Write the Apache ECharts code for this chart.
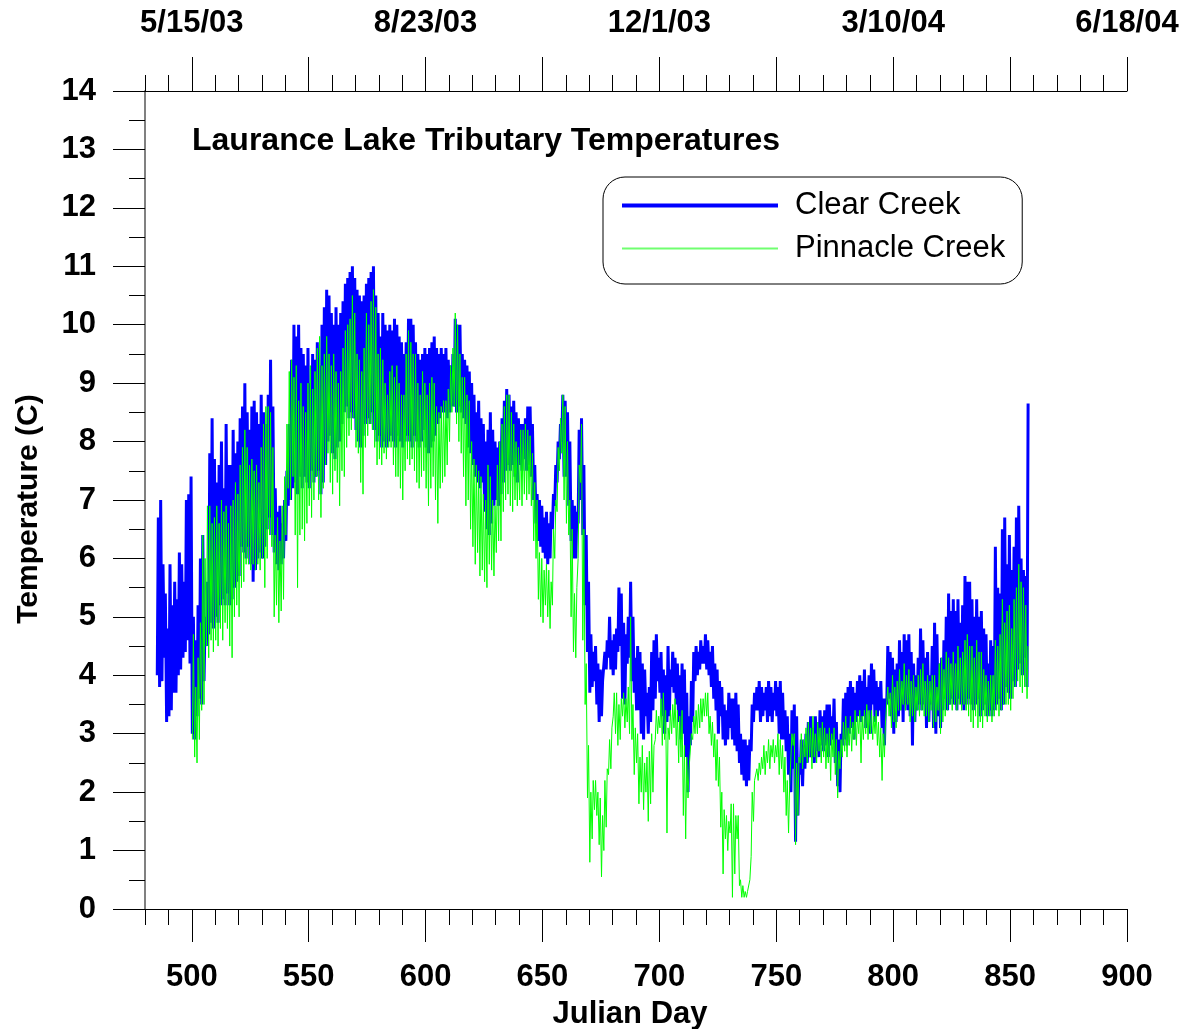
<!DOCTYPE html>
<html><head><meta charset="utf-8">
<script src="https://cdn.jsdelivr.net/npm/echarts@6/dist/echarts.min.js"></script>
<style>html,body{margin:0;padding:0;background:#fff}#chart{width:1183px;height:1029px}</style>
</head><body><div id="chart"></div>
<script>
// ---- tick labels ----
const dayLabelValues = [500, 550, 600, 650, 700, 750, 800, 850, 900];
const dayMajorTicks = [500, 550, 600, 650, 700, 750, 800, 850, 900];
const dateTickDays = [500, 600, 700, 800, 900];
const dateLabels = ['5/15/03', '8/23/03', '12/1/03', '3/10/04', '6/18/04'];

// ---- Clear Creek: daily low / high, starting Julian day 485 ----
const clearStartDay = 485;
const clearLow = [
4.0,3.8,3.9,4.3,3.2,3.3,3.4,3.7,3.7,4.0,
4.1,4.3,4.4,4.6,4.2,3.0,2.9,3.3,3.6,3.5,
3.9,4.5,4.7,4.9,4.8,5.0,4.9,5.2,5.3,5.2,
5.4,5.2,5.3,5.5,5.6,5.7,6.2,6.1,6.0,6.2,
5.9,5.6,5.8,6.0,6.1,6.0,6.2,6.5,6.7,6.4,
6.1,5.9,5.8,5.9,6.0,6.3,6.9,7.0,7.2,7.3,
7.1,7.4,7.2,7.4,7.3,7.2,7.5,7.3,7.4,7.5,
7.1,7.3,7.6,8.0,8.1,7.8,7.7,7.9,8.0,8.3,
8.5,8.6,8.4,8.5,8.4,8.2,8.0,7.9,8.1,8.3,
8.4,8.3,8.5,8.2,8.0,8.1,7.9,8.0,7.9,8.0,
8.1,8.0,7.9,8.1,8.0,7.9,8.0,8.1,8.0,7.9,
8.1,8.0,7.9,8.0,8.2,7.9,7.8,7.9,8.0,8.1,
8.3,8.4,8.5,8.5,8.4,8.5,8.6,8.6,8.5,8.6,
8.5,8.4,8.3,7.9,7.8,7.6,7.4,7.3,7.2,7.3,
6.8,6.5,6.4,6.6,6.9,7.0,6.9,7.1,7.3,7.5,
7.6,7.5,7.6,7.4,7.3,7.6,7.5,7.7,7.5,7.6,
7.4,7.0,6.6,6.3,6.2,6.1,6.0,5.9,6.0,6.5,
6.9,7.3,7.7,8.0,7.4,7.4,6.9,6.3,6.0,6.0,
6.6,7.0,6.4,5.2,4.4,3.7,3.8,3.9,3.5,3.2,
3.3,3.9,4.1,4.3,4.1,4.0,4.1,4.4,4.5,3.6,
3.5,4.2,4.3,3.9,3.7,3.4,3.4,3.0,2.9,3.3,
3.0,3.2,3.4,3.6,3.9,3.7,3.3,3.0,3.2,3.3,
3.8,3.7,3.5,3.2,2.9,3.0,2.6,2.0,2.8,3.2,
3.9,4.0,4.1,4.2,4.2,4.1,4.0,3.8,3.6,3.4,
3.0,3.3,2.9,2.8,2.9,3.1,2.9,2.8,2.7,2.5,
2.3,2.2,2.1,2.2,2.7,3.2,3.4,3.4,3.2,3.3,
3.4,3.2,3.3,3.2,3.4,3.3,3.0,2.9,2.9,2.7,
2.3,2.0,2.4,1.15,1.6,2.3,2.1,2.4,2.5,2.6,
2.6,2.5,2.7,2.6,2.8,2.7,2.8,2.6,2.8,2.9,
2.5,2.1,2.0,2.8,2.9,2.8,3.0,3.1,2.9,3.2,
3.3,3.2,3.3,3.1,3.4,3.0,3.5,3.2,3.3,3.4,
3.1,2.8,3.5,3.6,3.3,3.0,3.2,3.3,3.4,3.2,
3.5,3.4,3.3,2.8,3.2,3.4,3.5,3.4,3.5,3.1,
3.2,3.5,3.1,3.0,3.3,3.1,3.4,3.6,3.4,3.5,
3.6,3.5,3.4,3.6,3.5,3.4,3.5,3.6,3.5,3.4,
3.5,3.6,3.3,3.4,3.5,3.3,3.4,3.3,3.4,3.5,
3.6,3.4,3.5,3.8,3.7,3.6,3.9,3.8,4.1,4.2,
4.0,4.3,3.8
];
const clearHigh = [
6.7,7.0,5.9,5.4,4.8,5.9,5.2,5.6,5.3,6.1,
5.9,5.6,7.0,7.1,7.4,5.0,4.6,5.2,6.0,6.4,
5.0,5.6,7.8,8.4,7.7,7.3,7.6,8.0,7.2,8.3,
7.6,7.6,8.2,7.8,8.0,8.4,8.6,9.0,8.5,8.2,
8.6,8.7,8.5,8.3,8.8,8.5,8.3,8.8,9.4,8.6,
7.2,6.8,6.9,6.6,7.0,7.5,8.3,9.4,10.0,9.8,
10.0,9.6,9.5,9.3,9.6,9.0,9.5,9.4,9.7,9.3,
10.0,10.3,10.6,10.5,10.2,10.0,10.3,10.0,10.2,10.4,
10.7,10.8,10.9,11.0,10.8,10.6,10.5,10.4,10.5,10.7,
10.8,10.9,11.0,10.5,10.2,9.8,10.2,10.0,9.9,10.0,
9.9,10.1,10.0,9.8,9.7,9.5,9.7,10.1,10.1,10.0,
9.7,9.5,9.4,9.5,9.6,9.5,9.6,9.7,9.8,9.6,
9.5,9.6,9.5,9.6,9.4,9.3,9.5,10.1,10.0,10.0,
9.5,9.4,9.3,9.2,9.0,8.8,8.5,8.7,8.4,8.3,
8.0,8.2,8.5,8.2,8.0,7.9,8.0,8.4,8.7,8.9,
8.8,8.6,8.7,8.5,8.4,8.3,8.3,8.4,8.6,8.6,
8.3,7.6,7.1,7.0,6.9,6.7,6.8,6.6,6.8,7.1,
7.6,8.0,8.3,8.8,8.7,8.5,8.0,7.0,6.9,6.8,
8.2,8.4,7.6,6.4,5.6,4.7,4.4,4.5,4.2,4.1,
3.9,4.4,4.6,5.0,4.6,4.7,4.8,5.5,5.4,4.9,
4.7,5.0,5.6,5.0,4.3,4.5,4.4,4.2,4.1,3.7,
3.8,4.4,4.6,4.7,4.3,4.4,4.1,4.0,4.5,4.1,
4.4,4.3,4.2,4.0,4.2,4.1,3.7,3.3,3.9,4.4,
4.5,4.4,4.6,4.5,4.7,4.6,4.4,4.5,4.2,4.1,
3.9,3.8,3.5,3.4,3.7,3.6,3.6,3.7,3.5,3.0,
2.9,2.9,2.8,2.9,3.5,3.7,3.8,3.9,3.8,3.7,
3.8,3.9,3.8,3.7,3.9,3.8,3.9,3.7,3.4,3.3,
3.0,3.4,3.5,3.3,2.5,2.9,2.8,3.0,3.2,3.3,
3.1,3.3,3.2,3.4,3.3,3.4,3.5,3.5,3.3,3.6,
3.2,2.9,3.0,3.6,3.7,3.8,3.9,3.8,3.7,3.9,
4.0,3.9,4.1,3.8,4.0,4.2,4.1,3.9,3.8,3.9,
3.6,3.6,4.5,4.4,4.3,4.1,4.2,4.6,4.4,4.7,
4.6,4.7,4.4,4.2,4.0,4.3,4.8,4.6,4.3,4.4,
4.0,4.5,4.9,4.7,4.2,4.3,4.6,5.0,5.4,5.1,
5.3,5.1,5.3,4.9,5.2,5.7,5.6,5.6,5.3,5.0,
5.3,5.0,5.1,4.8,4.7,4.2,4.6,4.5,6.2,5.5,
5.4,6.5,6.7,5.9,6.4,5.8,6.2,6.7,6.9,6.0,
5.8,5.7,8.65
];

// ---- Pinnacle Creek: daily low / high, starting Julian day 500 ----
const pinnacleStartDay = 500;
const pinnacleLow = [
2.9,2.6,2.5,2.9,3.4,3.5,4.5,4.3,4.6,4.4,
4.6,4.5,4.8,4.6,4.9,4.8,4.5,4.3,5.0,5.2,
5.0,5.5,5.6,5.9,5.9,5.8,5.9,5.8,5.9,5.8,
6.0,5.5,6.0,6.4,6.2,5.0,5.2,4.9,5.1,5.3,
6.4,7.2,7.0,7.4,6.4,5.5,6.4,6.5,6.3,6.6,
6.9,6.7,7.0,7.4,7.0,6.7,7.2,7.6,7.8,7.3,
7.1,7.5,7.3,6.9,7.5,7.4,7.9,8.1,8.2,8.4,
7.9,7.8,7.3,7.1,7.9,8.1,8.3,8.2,7.9,7.6,
7.7,7.6,7.8,7.7,7.9,7.9,7.6,7.4,7.4,7.2,
7.0,7.5,7.7,7.6,7.7,7.5,7.3,7.2,7.4,7.5,
7.2,6.9,7.2,7.4,7.0,6.6,7.2,7.3,7.4,7.6,
8.0,8.5,8.6,8.3,8.0,7.8,7.4,6.9,7.0,6.5,
6.2,5.9,6.1,5.7,5.8,5.6,5.5,5.9,5.8,5.7,
6.1,6.3,6.3,6.8,7.0,7.1,6.9,6.8,7.0,6.9,
7.0,6.9,7.1,7.0,7.1,6.9,6.3,6.0,5.3,5.0,
4.9,5.2,5.0,4.8,5.2,6.0,6.8,7.5,7.8,7.0,
6.6,6.4,5.0,4.4,4.3,6.0,7.3,4.6,3.5,1.9,
0.8,1.2,1.7,1.6,1.1,0.55,1.0,1.4,2.3,2.4,
3.3,3.0,2.8,2.9,3.3,3.1,3.2,3.0,2.9,2.3,
2.5,1.8,2.0,1.7,2.0,1.5,1.8,2.0,2.9,3.0,
3.1,2.8,2.9,1.3,2.9,3.0,3.1,2.8,2.5,2.6,
1.6,1.2,1.9,2.4,2.9,3.0,3.0,3.1,3.2,3.3,
3.3,3.0,2.8,2.6,2.2,2.1,1.4,0.6,1.2,1.0,
1.3,0.2,0.6,1.2,0.4,0.2,0.2,0.2,0.3,0.9,
1.5,2.2,2.2,2.3,2.4,2.3,2.5,2.4,2.6,2.5,
2.6,2.3,2.4,2.0,1.6,1.3,2.6,2.8,1.1,1.6,
2.5,2.4,2.6,2.5,2.6,2.4,2.6,2.5,2.7,2.5,
2.6,2.4,2.5,2.2,2.6,2.3,1.9,2.4,2.6,2.7,
2.6,2.8,2.7,2.9,2.8,3.0,2.5,2.9,3.0,2.9,
3.0,2.9,3.0,2.8,2.6,2.2,2.6,3.2,3.3,3.1,
3.2,3.1,3.4,3.4,3.5,3.4,3.5,3.2,3.3,3.2,
3.4,3.3,3.4,3.3,3.3,3.2,3.4,3.1,3.2,3.4,
3.0,3.2,3.3,3.4,3.5,3.4,3.5,3.4,3.5,3.4,
3.5,3.4,3.3,3.2,3.1,3.3,3.1,3.2,3.1,3.3,
3.2,3.3,3.2,3.3,3.4,3.3,3.4,3.5,3.5,3.5,
3.4,3.6,3.8,3.9,3.8,3.7,3.8,3.6
];
const pinnacleHigh = [
4.7,3.8,4.3,4.9,6.4,6.0,6.9,6.9,6.6,6.7,
6.9,6.6,7.0,6.8,6.9,6.6,6.9,7.0,7.3,7.1,
7.6,7.9,8.2,7.9,7.6,7.7,7.5,7.6,7.3,7.9,
8.3,8.6,8.6,8.5,7.9,6.4,6.7,6.3,6.9,7.4,
8.3,9.2,9.4,9.1,9.3,8.7,9.0,8.6,8.5,9.0,
9.3,8.9,9.2,9.6,9.8,9.3,9.5,9.8,9.5,9.3,
9.5,9.2,9.0,9.2,9.6,9.9,10.0,10.1,10.5,10.2,
9.5,9.4,9.2,9.6,10.2,10.0,10.4,10.6,10.3,9.5,
9.6,9.4,9.0,8.8,9.2,9.3,9.1,9.3,9.0,8.8,
8.8,9.5,9.9,9.7,9.5,9.5,9.0,8.8,9.2,9.0,
8.8,9.0,9.1,9.0,8.6,8.5,8.6,8.7,8.7,8.9,
9.3,9.6,10.2,10.0,9.5,9.1,9.1,8.8,8.7,8.0,
7.7,7.6,7.5,7.4,7.1,7.0,7.6,7.4,7.0,6.9,
7.6,8.0,8.3,8.6,8.8,8.8,8.5,8.3,8.0,7.9,
8.2,8.2,8.3,8.2,8.1,7.8,7.3,7.0,6.1,6.0,
5.8,5.9,5.8,5.6,6.5,7.0,7.9,8.4,8.8,8.6,
8.0,7.0,6.5,5.4,5.5,7.6,8.3,6.5,4.2,2.8,
2.0,2.2,2.2,2.0,1.9,1.6,2.2,2.4,2.9,3.1,
3.7,3.7,3.5,3.6,3.7,3.6,3.8,5.0,3.5,3.1,
3.0,2.6,2.8,2.5,2.6,2.7,3.0,2.8,3.4,3.3,
3.6,3.7,3.4,3.1,3.4,3.5,3.6,3.4,3.3,3.4,
2.8,2.6,2.4,3.0,3.3,3.4,3.5,3.6,3.6,3.7,
3.7,3.3,3.2,3.0,2.9,2.6,2.0,1.7,1.6,1.5,
1.8,1.8,1.6,1.6,0.5,0.4,0.3,0.3,0.5,2.0,
2.2,2.4,2.5,2.6,2.8,2.7,2.9,2.8,2.9,2.8,
3.0,2.9,2.8,2.6,2.2,2.1,3.0,3.0,2.5,2.6,
3.0,2.9,3.1,3.2,3.1,3.3,3.0,3.2,3.1,3.2,
3.1,3.0,3.1,3.0,3.1,2.9,2.7,2.9,3.2,3.3,
3.1,3.3,3.2,3.4,3.3,3.4,3.3,3.4,3.5,3.4,
3.4,3.3,3.4,3.2,3.1,3.0,3.2,3.8,3.7,4.0,
3.8,3.9,4.1,3.9,4.2,4.0,4.1,3.9,4.0,3.8,
4.0,4.1,4.2,3.9,4.0,3.9,4.0,4.0,3.8,4.2,
4.3,4.1,4.4,4.3,4.2,4.4,4.2,4.5,4.3,4.4,
4.6,4.7,4.5,4.5,4.3,4.6,4.4,4.4,4.1,4.0,
3.9,4.0,4.0,4.6,4.5,4.7,5.3,4.9,5.1,5.2,
4.8,5.3,5.5,5.9,5.6,5.5,5.2,4.5
];

// daily minimum taken in the morning, maximum in the afternoon
function buildSeries(startDay, lows, highs) {
  const pts = [];
  for (let i = 0; i < lows.length; i++) {
    pts.push([startDay + i + 0.25, lows[i]]);
    pts.push([startDay + i + 0.7, highs[i]]);
  }
  return pts;
}

const FONT = "'Liberation Sans', Arial, sans-serif";
const boldText = { fontFamily: FONT, fontSize: 31, fontWeight: 'bold', color: '#000' };
const black = { color: '#000', width: 1 };

const chart = echarts.init(document.getElementById('chart'), null, { renderer: 'canvas' });
chart.setOption({
  animation: false,
  backgroundColor: '#fff',
  title: {
    text: 'Laurance Lake Tributary Temperatures',
    left: 192, top: 125, padding: 0,
    textStyle: Object.assign({}, boldText, { fontSize: 32 })
  },
  legend: {
    orient: 'vertical',
    left: 603, top: 177,
    padding: [13, 17, 20, 17],
    itemGap: 12,
    itemWidth: 156, itemHeight: 31,
    borderColor: '#000', borderWidth: 1, borderRadius: 22,
    selectedMode: false,
    itemStyle: { opacity: 0 },
    textStyle: { fontFamily: FONT, fontSize: 31, color: '#000', padding: [3, 0, 0, 12] },
    data: [
      { name: 'Clear Creek', lineStyle: { width: 4, color: '#0000ff' } },
      { name: 'Pinnacle Creek', lineStyle: { width: 2, color: '#70ff70' } }
    ]
  },
  grid: { left: 145, right: 56, top: 91, bottom: 120, containLabel: false, outerBoundsMode: 'none' },
  xAxis: [
    {
      type: 'value', position: 'bottom', min: 480, max: 900, interval: 10,
      axisLine: { show: true, onZero: false, lineStyle: black },
      axisTick: { show: true, length: 16, lineStyle: black },
      axisLabel: Object.assign({ customValues: dayLabelValues, margin: 53 }, boldText),
      splitLine: { show: false },
      name: 'Julian Day', nameLocation: 'middle', nameGap: 90,
      nameTextStyle: Object.assign({}, boldText, { padding: [0, 12, 0, 0] })
    },
    {
      type: 'value', position: 'bottom', min: 480, max: 900, offset: 0,
      axisLine: { show: false, onZero: false },
      axisTick: { show: true, customValues: dayMajorTicks, length: 33, lineStyle: black },
      axisLabel: { show: false },
      splitLine: { show: false }
    },
    {
      type: 'value', position: 'top', min: 480, max: 900, interval: 10, offset: 0,
      axisLine: { show: true, onZero: false, lineStyle: black },
      axisTick: { show: true, length: 16, lineStyle: black },
      axisLabel: Object.assign({
        customValues: dateTickDays, margin: 52,
        formatter: function (v) { return dateLabels[dateTickDays.indexOf(v)]; }
      }, boldText),
      splitLine: { show: false }
    },
    {
      type: 'value', position: 'top', min: 480, max: 900, offset: 0,
      axisLine: { show: false, onZero: false },
      axisTick: { show: true, customValues: dayMajorTicks, length: 34, lineStyle: black },
      axisLabel: { show: false },
      splitLine: { show: false }
    }
  ],
  yAxis: {
    type: 'value', min: 0, max: 14, interval: 1,
    axisLine: { show: true, onZero: false, lineStyle: { color: '#808080', width: 2 } },
    axisTick: { show: true, length: 32, lineStyle: black },
    minorTick: { show: true, splitNumber: 2, length: 16, lineStyle: black },
    axisLabel: Object.assign({ margin: 49 }, boldText),
    splitLine: { show: false },
    minorSplitLine: { show: false },
    name: 'Temperature (C)', nameLocation: 'middle', nameRotate: 90, nameGap: 101,
    nameTextStyle: Object.assign({}, boldText, { fontSize: 30, padding: [0, 18, 0, 0] })
  },
  series: [
    {
      name: 'Clear Creek', type: 'line', xAxisIndex: 0, yAxisIndex: 0,
      data: buildSeries(clearStartDay, clearLow, clearHigh),
      symbol: 'none', showSymbol: false,
      lineStyle: { color: '#0000ff', width: 3 },
      itemStyle: { color: '#0000ff' },
      z: 2
    },
    {
      name: 'Pinnacle Creek', type: 'line', xAxisIndex: 0, yAxisIndex: 0,
      data: buildSeries(pinnacleStartDay, pinnacleLow, pinnacleHigh),
      symbol: 'none', showSymbol: false,
      lineStyle: { color: '#00ff00', width: 1 },
      itemStyle: { color: '#00ff00' },
      z: 3
    }
  ]
});
</script>
</body></html>
